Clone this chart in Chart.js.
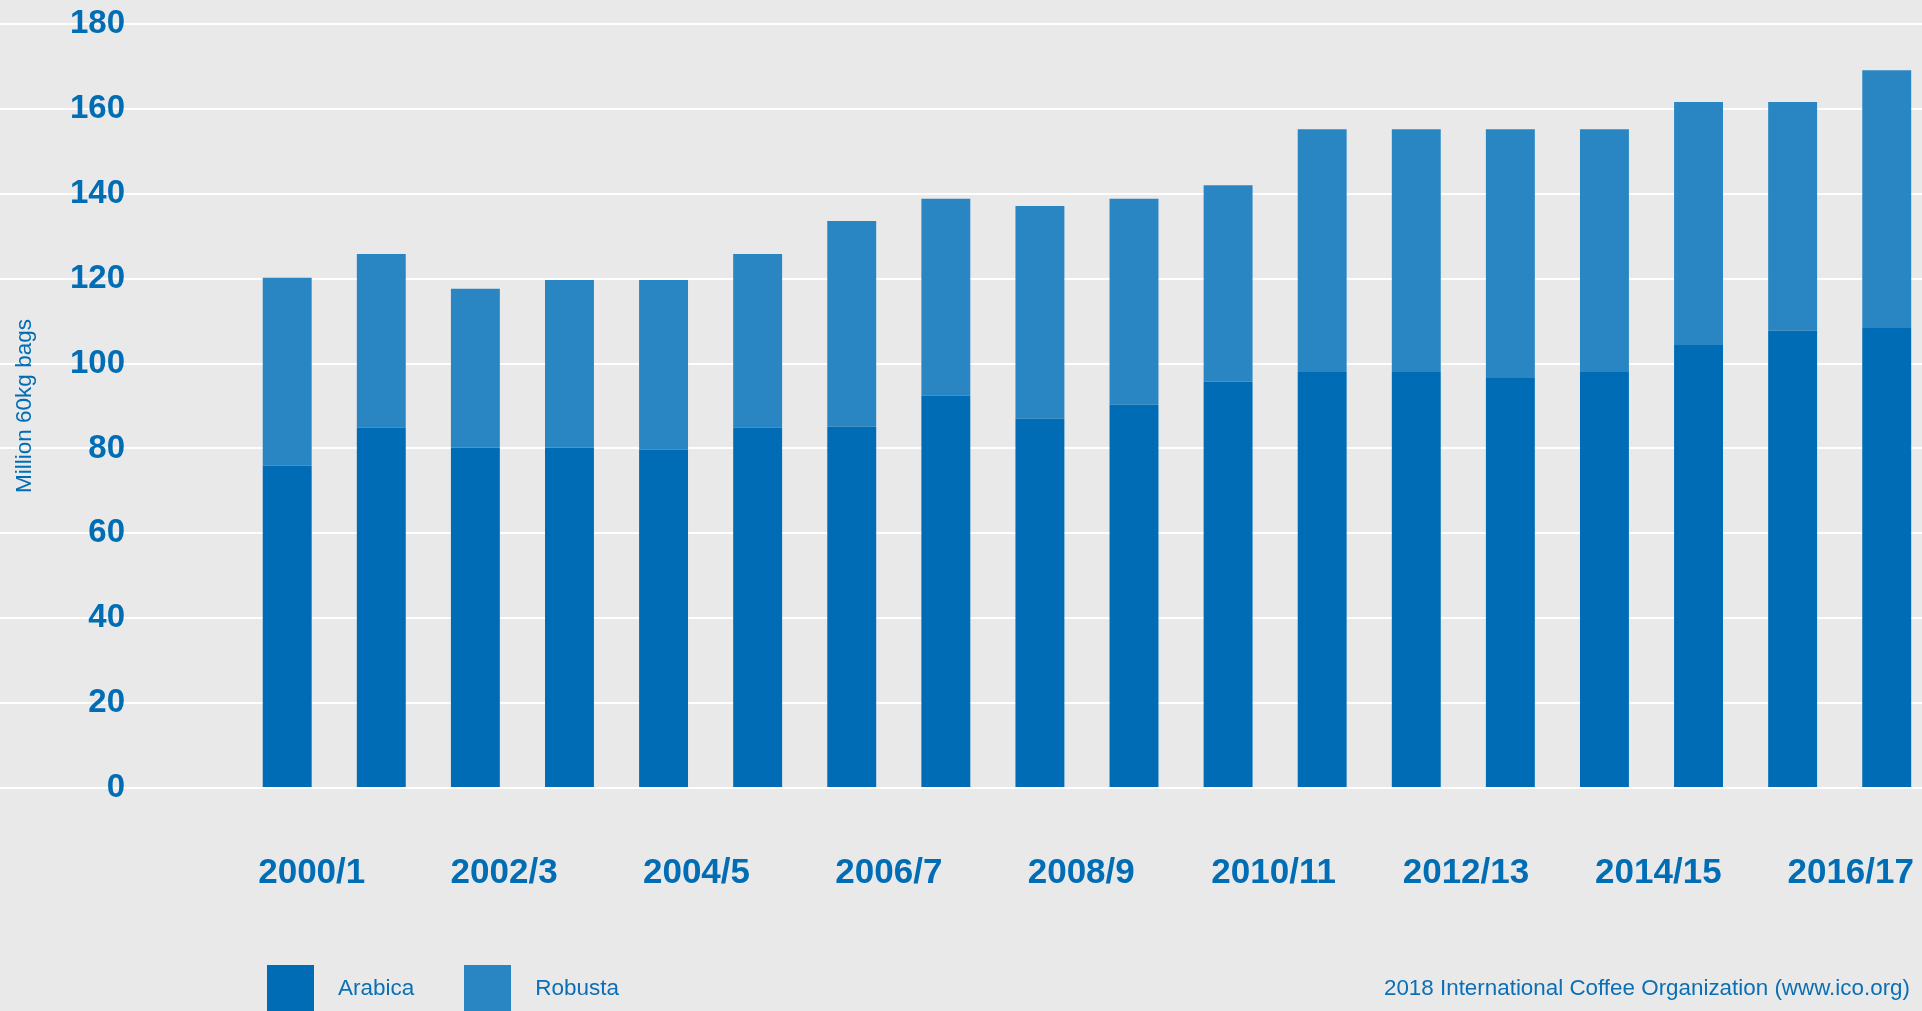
<!DOCTYPE html>
<html>
<head>
<meta charset="utf-8">
<title>World coffee production, Arabica and Robusta</title>
<script src="https://cdn.jsdelivr.net/npm/chart.js@4"></script>
<style>
  html, body { margin: 0; padding: 0; background: #e9e9e9; overflow: hidden; }
  #wrap { position: relative; width: 1922px; height: 1011px; }
  #legend { position: absolute; left: 267px; top: 965px; display: flex; }
  .item { display: flex; align-items: flex-start; margin-right: 50px; }
  .swatch { width: 47px; height: 46px; margin-right: 24px; }
  .item span { font: 22.5px "Liberation Sans", Arial, sans-serif; color: #0a6fb5; line-height: 46px; }
  #source { position: absolute; right: 12px; top: 975px; font: 22.4px "Liberation Sans", Arial, sans-serif; color: #0a6fb5; }
</style>
</head>
<body>
<div id="wrap">
  <canvas id="chart"></canvas>
  <div id="legend"></div>
  <div id="source">2018 International Coffee Organization (www.ico.org)</div>
</div>
<script>
// Campañas cafeteras (una barra por campaña)
const seasons = ['2000/1', '2001/2', '2002/3', '2003/4', '2004/5', '2005/6', '2006/7', '2007/8', '2008/9',
  '2009/10', '2010/11', '2011/12', '2012/13', '2013/14', '2014/15', '2015/16', '2016/17', '2017/18'];

// Producción en millones de sacos de 60 kg
const arabica = [75.9, 84.9, 80.2, 80.2, 79.7, 84.9, 85.1, 92.4, 87.0, 90.3, 95.7, 98.0, 98.0, 96.6, 98.0, 104.4, 107.7, 108.4];
const robusta = [44.3, 40.9, 37.4, 39.5, 40.0, 40.9, 48.5, 46.4, 50.1, 48.5, 46.3, 57.2, 57.2, 58.6, 57.2, 57.2, 53.9, 60.7];

const yTicks = [0, 20, 40, 60, 80, 100, 120, 140, 160, 180];

const BLUE_TEXT = '#006db5';
const FONT = '"Liberation Sans", Arial, sans-serif';

const datasetConfig = [
  { label: 'Arabica', values: arabica, color: '#006cb5' },
  { label: 'Robusta', values: robusta, color: '#2986c3' },
];

const datasets = datasetConfig.map(({ label, values, color }) => ({
  label,
  data: values.map((v, i) => ({ x: i, y: v })),
  backgroundColor: color,
  borderWidth: 0,
  barPercentage: 0.52,
  categoryPercentage: 1,
}));

// Título vertical del eje Y, dibujado encima de las líneas de la rejilla
const yTitle = {
  id: 'yTitle',
  afterDraw(chart) {
    const { ctx, chartArea } = chart;
    ctx.save();
    ctx.translate(25, (chartArea.top + chartArea.bottom) / 2);
    ctx.rotate(-Math.PI / 2);
    ctx.font = '22.5px ' + FONT;
    ctx.fillStyle = BLUE_TEXT;
    ctx.textAlign = 'center';
    ctx.textBaseline = 'middle';
    ctx.fillText('Million 60kg bags', 0, 0);
    ctx.restore();
  },
};

const chart = new Chart(document.getElementById('chart'), {
  type: 'bar',
  data: { datasets },
  plugins: [yTitle],
  options: {
    responsive: true,
    maintainAspectRatio: false,
    animation: false,
    layout: { padding: { top: 24, bottom: 117, left: 0, right: 0 } },
    plugins: { legend: { display: false }, tooltip: { enabled: false } },
    scales: {
      x: {
        type: 'linear',
        display: false,
        stacked: true,
        offset: false,
        bounds: 'data',
        min: -2.3085,
        max: 17.375,
      },
      xl: {
        type: 'linear',
        position: 'bottom',
        offset: false,
        bounds: 'data',
        min: -2.513,
        max: 16.741,
        border: { display: false },
        grid: { drawOnChartArea: false, drawTicks: true, tickLength: 64, tickColor: 'transparent' },
        afterBuildTicks: (axis) => {
          axis.ticks = seasons.map((s, i) => ({ value: i })).filter((t) => t.value % 2 === 0);
        },
        ticks: {
          autoSkip: false,
          maxRotation: 0,
          padding: 0,
          color: BLUE_TEXT,
          font: { family: FONT, size: 35, weight: 'bold' },
          callback: (value) => seasons[value],
        },
      },
      y: {
        stacked: true,
        min: 0,
        max: 180,
        border: { display: false },
        afterBuildTicks: (axis) => {
          axis.ticks = yTicks.map((v) => ({ value: v }));
        },
        grid: {
          color: '#ffffff',
          lineWidth: 2,
          drawTicks: true,
          tickLength: 70,
          tickColor: '#ffffff',
          tickWidth: 2,
        },
        ticks: {
          mirror: true,
          crossAlign: 'far',
          padding: 0,
          color: BLUE_TEXT,
          font: { family: FONT, size: 33, weight: 'bold' },
        },
      },
    },
  },
});

// Leyenda en HTML a partir de los datasets
const legendEl = document.getElementById('legend');
datasetConfig.forEach(({ label, color }) => {
  const item = document.createElement('div');
  item.className = 'item';
  item.innerHTML = `<div class="swatch" style="background:${color}"></div><span>${label}</span>`;
  legendEl.appendChild(item);
});
</script>
</body>
</html>
